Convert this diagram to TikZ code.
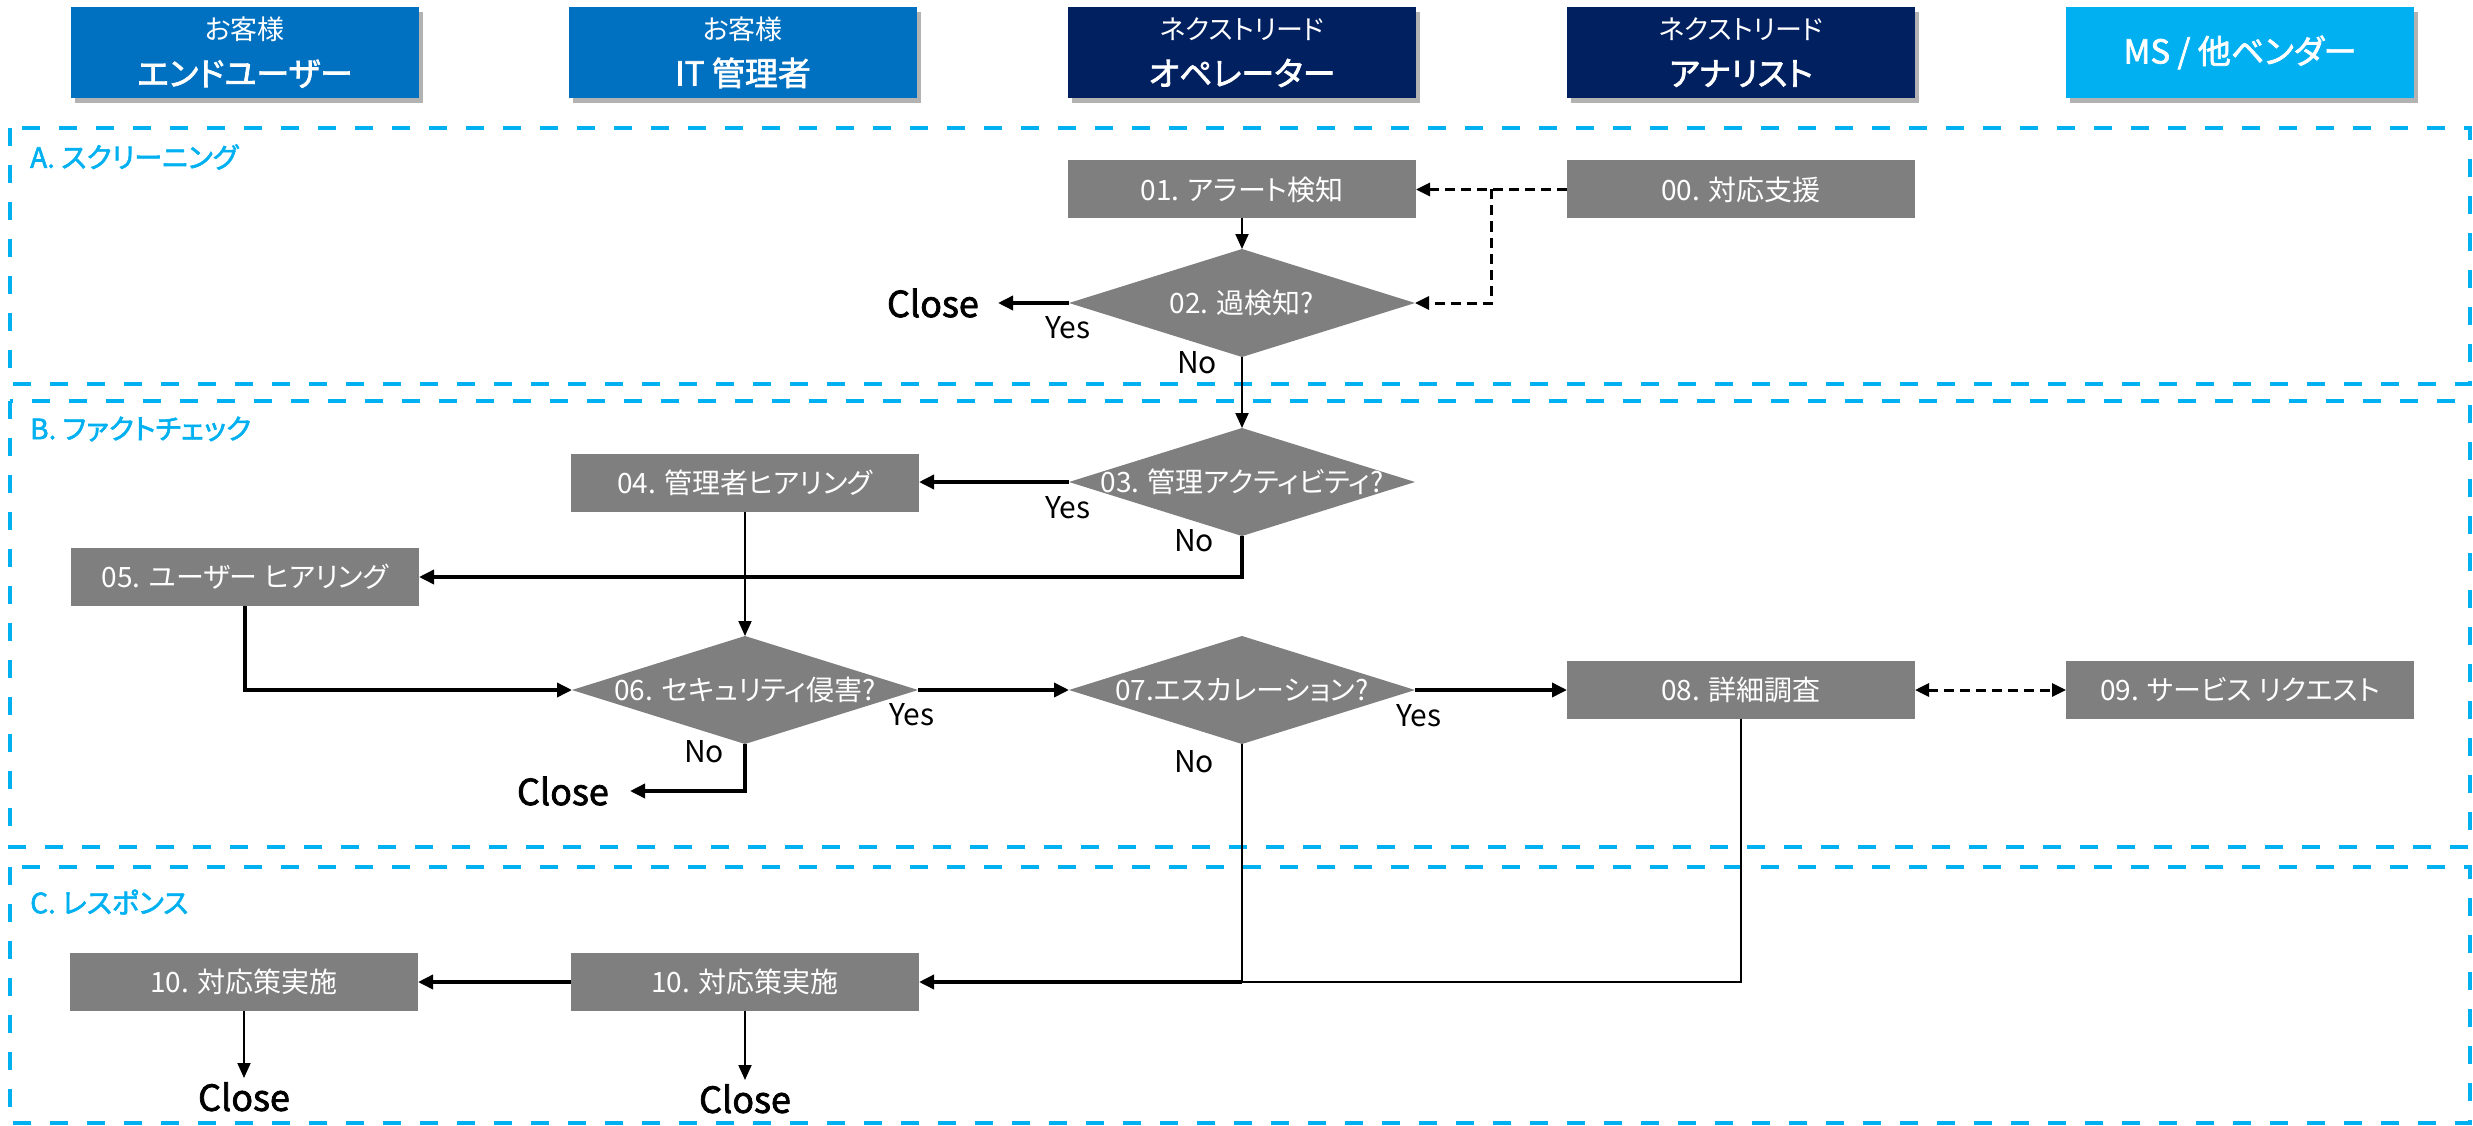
\documentclass[tikz,border=0pt]{standalone}
\usepackage{fontspec}
\setmainfont{Noto Sans CJK JP}[RawFeature=+palt,AutoFakeBold=2]
\usetikzlibrary{arrows.meta,shapes.geometric,shadows,calc}
\definecolor{cBlue}{HTML}{0070C0}
\definecolor{cNavy}{HTML}{002060}
\definecolor{cCyan}{HTML}{00B0F0}
\definecolor{cGray}{HTML}{7F7F7F}
\newcommand{\HdrBig}{\fontsize{33}{46}\selectfont\bfseries}
\begin{document}
\begin{tikzpicture}[x=1pt,y=-1pt,
  hdr/.style={rectangle, minimum width=348pt, minimum height=91pt, inner sep=0pt, outer sep=0pt,
    text=white, align=center, font=\fontsize{27}{46}\selectfont,
    drop shadow={shadow xshift=4pt, shadow yshift=-5pt, fill=black, opacity=0.3}},
  sec/.style={draw=cCyan, line width=4.5pt, dash pattern=on 18pt off 19pt},
  secl/.style={text=cCyan, font=\fontsize{28}{34}\selectfont\bfseries, anchor=west, inner sep=0pt},
  box/.style={rectangle, fill=cGray, minimum width=348pt, minimum height=58pt, inner sep=0pt, outer sep=0pt,
    text=white, font=\fontsize{28}{34}\selectfont},
  dia/.style={diamond, fill=cGray, minimum width=346pt, minimum height=108pt, inner sep=0pt, outer sep=0pt},
  dtxt/.style={text=white, font=\fontsize{28}{34}\selectfont},
  ln/.style={line width=2pt, -{Triangle[length=15pt,width=13pt]}},
  lk/.style={line width=3.5pt, -{Triangle[length=15pt,width=14pt]}},
  dl/.style={line width=3pt, dash pattern=on 10pt off 6pt},
  lbl/.style={font=\fontsize{30}{36}\selectfont, inner sep=0pt},
  cls/.style={font=\fontsize{36}{40}\selectfont\bfseries, inner sep=0pt}
]
\useasboundingbox (0,0) rectangle (2473,1126);

% section frames
\draw[sec] (10,128) rectangle (2470,384);
\draw[sec] (10,401) rectangle (2470,847);
\draw[sec] (10,867) rectangle (2470,1123);
\node[secl] (la) at (30,157) {A. スクリーニング};
\node[secl] (lb) at (30,429) {B. ファクトチェック};
\node[secl] (lc) at (30,902) {C. レスポンス};

% headers
\node[hdr, fill=cBlue] (h1) at (245,52.5) {お客様\\{\HdrBig エンドユーザー}};
\node[hdr, fill=cBlue] (h2) at (743,52.5) {お客様\\{\HdrBig IT 管理者}};
\node[hdr, fill=cNavy] (h3) at (1242,52.5) {ネクストリード\\{\HdrBig オペレーター}};
\node[hdr, fill=cNavy] (h4) at (1741,52.5) {ネクストリード\\{\HdrBig アナリスト}};
\node[hdr, fill=cCyan] (h5) at (2240,52.5) {{\HdrBig MS / 他ベンダー}};

% boxes
\node[box] (n00) at (1741,189.5) {00. 対応支援};
\node[box] (n01) at (1242,189.5) {01. アラート検知};
\node[dia, label={[dtxt]center:02. 過検知?}] (d02) at (1242,303) {};
\node[dia, label={[dtxt]center:03. 管理アクティビティ?}] (d03) at (1242,482) {};
\node[box] (n04) at (745,483) {04. 管理者ヒアリング};
\node[box] (n05) at (245,577) {05. ユーザー ヒアリング};
\node[dia, label={[dtxt]center:06. セキュリティ侵害?}] (d06) at (745,690) {};
\node[dia, label={[dtxt]center:07.エスカレーション?}] (d07) at (1242,690) {};
\node[box] (n08) at (1741,690) {08. 詳細調査};
\node[box] (n09) at (2240,690) {09. サービス リクエスト};
\node[box] (n10b) at (745,982) {10. 対応策実施};
\node[box] (n10a) at (244,982) {10. 対応策実施};

% Close labels
\node[cls, inner xsep=19pt, anchor=east] (c02) at (998,303) {Close};
\node[cls, inner xsep=21pt, anchor=east] (c06) at (630,791) {Close};
\node[cls, inner ysep=4pt, anchor=north] (c10a) at (244,1078) {Close};
\node[cls, inner ysep=4pt, anchor=north] (c10b) at (745,1080) {Close};

% Yes / No
\node[lbl] (y02) at (1068,328) {Yes};
\node[lbl] (o02) at (1197,363) {No};
\node[lbl] (y03) at (1068,508) {Yes};
\node[lbl] (o03) at (1194,541) {No};
\node[lbl] (y06) at (912,715) {Yes};
\node[lbl] (o06) at (704,752) {No};
\node[lbl] (y07) at (1419,716) {Yes};
\node[lbl] (o07) at (1194,762) {No};

% connectors
\coordinate (j1) at ($(n01.east)!0.5!(n00.west)$);
\draw[dl, -{Triangle[length=14pt,width=13pt]}] (n00.west) -- (n01.east);
\draw[dl, -{Triangle[length=14pt,width=13pt]}] (j1) |- (d02.east);
\draw[ln] (n01.south) -- (d02.north);
\draw[lk] (d02.west) -- (c02.east);
\draw[ln] (d02.south) -- (d03.north);
\draw[lk] (d03.west) -- (d03.west -| n04.east);
\draw[lk] (d03.south) |- (n05.east);
\draw[ln] (n04.south) -- (d06.north);
\draw[lk] (n05.south) |- (d06.west);
\draw[lk] (d06.east) -- (d07.west);
\draw[lk] (d06.south) |- (c06.east);
\draw[lk] (d07.east) -- (n08.west);
\draw[dl, {Triangle[length=14pt,width=13pt]}-{Triangle[length=14pt,width=13pt]}] (n08.east) -- (n09.west);
\coordinate (j2) at (d07.south |- n10b.east);
\draw[line width=2pt] (d07.south) -- (j2);
\draw[line width=2.5pt] (n08.south) |- (j2);
\draw[lk] (j2) -- (n10b.east);
\draw[lk] (n10b.west) -- (n10a.east);
\draw[ln] (n10a.south) -- (c10a.north);
\draw[ln] (n10b.south) -- (c10b.north);
\end{tikzpicture}
\end{document}
